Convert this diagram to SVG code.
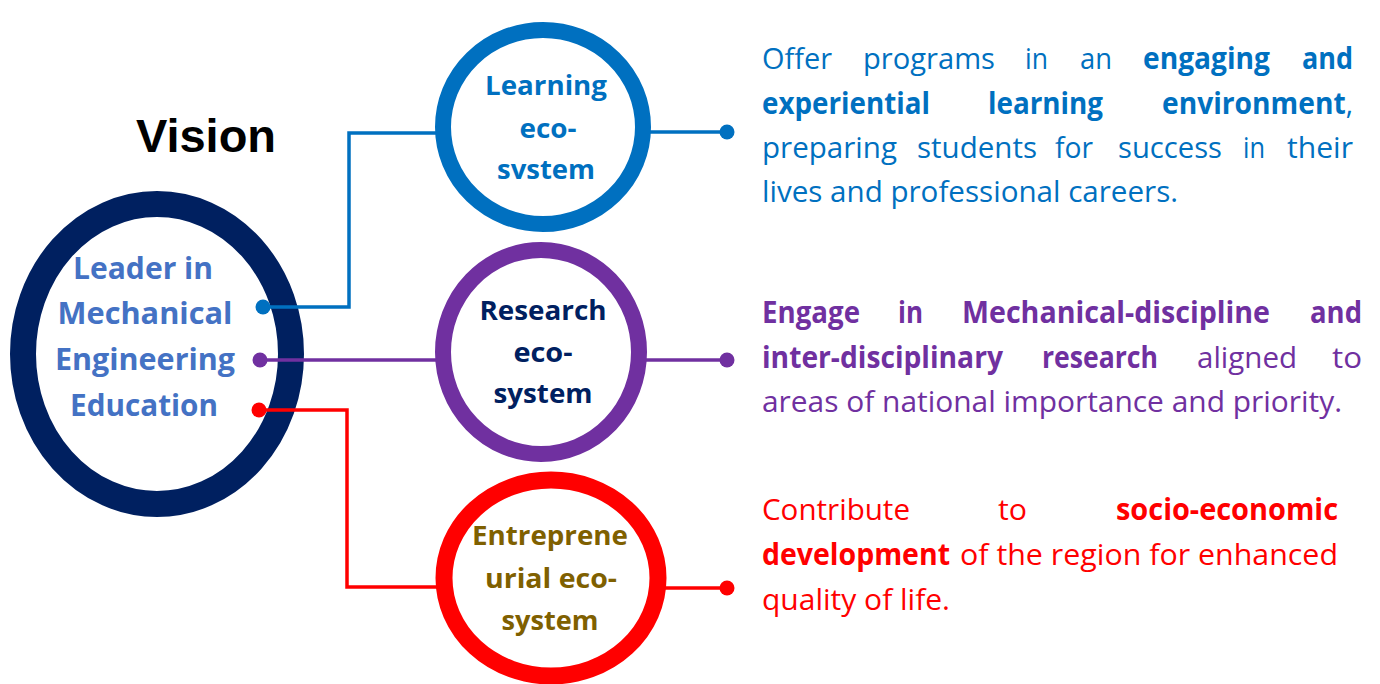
<svg xmlns="http://www.w3.org/2000/svg" width="1380" height="684" viewBox="0 0 1380 684">
<style>
text{font-family:"Open Sans","Noto Sans","DejaVu Sans",sans-serif}
.b{font-weight:700}
.n{font-weight:400}
.mid{text-anchor:middle}
.big{font-size:30px;font-weight:700;fill:#4472C4}
.sm{font-size:26px;font-weight:700}
.para{font-size:29.5px}
.blue{fill:#0070C0}
.purple{fill:#7030A0}
.red{fill:#FF0000}
.ring{fill:#FFFFFF}
.ln{fill:none;stroke-width:3.5}
</style>
<rect width="1380" height="684" fill="#FFFFFF"/>
<text x="206" y="152" font-size="47" font-weight="700" style="font-family:'Liberation Sans',Arial,sans-serif" text-anchor="middle" fill="#000000">Vision</text>

<g id="node-vision">
<ellipse class="ring" cx="157" cy="354" rx="134" ry="150" stroke="#002060" stroke-width="26"/>
<text class="big mid" x="143" y="279" textLength="140" lengthAdjust="spacingAndGlyphs">Leader in</text>
<text class="big mid" x="145" y="324" textLength="175" lengthAdjust="spacingAndGlyphs">Mechanical</text>
<text class="big mid" x="145" y="370" textLength="180" lengthAdjust="spacingAndGlyphs">Engineering</text>
<text class="big mid" x="144" y="416" textLength="148" lengthAdjust="spacingAndGlyphs">Education</text>
</g>

<g id="connectors">
<polyline class="ln" stroke="#0070C0" points="263,307 349,307 349,133 440,133"/>
<line class="ln" stroke="#0070C0" x1="648" y1="132" x2="727" y2="132"/>
<circle cx="263" cy="307" r="7.5" fill="#0070C0"/>
<circle cx="727" cy="132" r="7.5" fill="#0070C0"/>
<line class="ln" stroke="#7030A0" x1="260" y1="360" x2="440" y2="360"/>
<line class="ln" stroke="#7030A0" x1="642" y1="360" x2="727" y2="360"/>
<circle cx="260" cy="360" r="7.5" fill="#7030A0"/>
<circle cx="727" cy="360" r="7.5" fill="#7030A0"/>
<polyline class="ln" stroke="#FF0000" points="259,410 347,410 347,587 440,587"/>
<line class="ln" stroke="#FF0000" x1="660" y1="588" x2="727" y2="588"/>
<circle cx="259" cy="410" r="7.5" fill="#FF0000"/>
<circle cx="727" cy="588" r="7.5" fill="#FF0000"/>
</g>

<g id="node-learning">
<ellipse class="ring" cx="543" cy="127" rx="100" ry="97" stroke="#0070C0" stroke-width="16"/>
<text class="sm mid blue" x="546" y="95" textLength="122" lengthAdjust="spacingAndGlyphs">Learning</text>
<text class="sm mid blue" x="548" y="138" textLength="57" lengthAdjust="spacingAndGlyphs">eco-</text>
<text class="sm mid blue" x="546" y="179" textLength="98" lengthAdjust="spacingAndGlyphs">svstem</text>
</g>

<g id="node-research">
<ellipse class="ring" cx="541" cy="352" rx="98" ry="102" stroke="#7030A0" stroke-width="16"/>
<text class="sm mid" fill="#002060" x="543" y="320" textLength="127" lengthAdjust="spacingAndGlyphs">Research</text>
<text class="sm mid" fill="#002060" x="543" y="362" textLength="59" lengthAdjust="spacingAndGlyphs">eco-</text>
<text class="sm mid" fill="#002060" x="543" y="403" textLength="99" lengthAdjust="spacingAndGlyphs">system</text>
</g>

<g id="node-entrepreneurial">
<ellipse class="ring" cx="551" cy="578" rx="107" ry="98" stroke="#FF0000" stroke-width="17"/>
<text class="sm mid" fill="#7F6000" x="550" y="545" textLength="156" lengthAdjust="spacingAndGlyphs">Entreprene</text>
<text class="sm mid" fill="#7F6000" x="551" y="588" textLength="132" lengthAdjust="spacingAndGlyphs">urial eco-</text>
<text class="sm mid" fill="#7F6000" x="550" y="630" textLength="97" lengthAdjust="spacingAndGlyphs">system</text>
</g>

<g id="text-learning" class="para blue">
<text x="762" y="69" textLength="70" lengthAdjust="spacingAndGlyphs">Offer</text>
<text x="863" y="69" textLength="132" lengthAdjust="spacingAndGlyphs">programs</text>
<text x="1025" y="69" textLength="23" lengthAdjust="spacingAndGlyphs">in</text>
<text x="1080" y="69" textLength="32" lengthAdjust="spacingAndGlyphs">an</text>
<text class="b" x="1143" y="69" textLength="127" lengthAdjust="spacingAndGlyphs">engaging</text>
<text class="b" x="1302" y="69" textLength="51" lengthAdjust="spacingAndGlyphs">and</text>
<text class="b" x="762" y="114" textLength="168" lengthAdjust="spacingAndGlyphs">experiential</text>
<text class="b" x="988" y="114" textLength="115" lengthAdjust="spacingAndGlyphs">learning</text>
<text x="1162" y="114" textLength="191" lengthAdjust="spacingAndGlyphs"><tspan class="b">environment</tspan><tspan class="n">,</tspan></text>
<text x="762" y="158" textLength="135" lengthAdjust="spacingAndGlyphs">preparing</text>
<text x="917" y="158" textLength="120" lengthAdjust="spacingAndGlyphs">students</text>
<text x="1055" y="158" textLength="38" lengthAdjust="spacingAndGlyphs">for</text>
<text x="1118" y="158" textLength="104" lengthAdjust="spacingAndGlyphs">success</text>
<text x="1243" y="158" textLength="22" lengthAdjust="spacingAndGlyphs">in</text>
<text x="1287" y="158" textLength="66" lengthAdjust="spacingAndGlyphs">their</text>
<text x="762" y="202" textLength="416" lengthAdjust="spacingAndGlyphs">lives and professional careers.</text>
</g>

<g id="text-research" class="para purple">
<text class="b" x="762" y="323" textLength="98" lengthAdjust="spacingAndGlyphs">Engage</text>
<text class="b" x="898" y="323" textLength="25" lengthAdjust="spacingAndGlyphs">in</text>
<text class="b" x="962" y="323" textLength="308" lengthAdjust="spacingAndGlyphs">Mechanical-discipline</text>
<text class="b" x="1310" y="323" textLength="52" lengthAdjust="spacingAndGlyphs">and</text>
<text class="b" x="762" y="368" textLength="241" lengthAdjust="spacingAndGlyphs">inter-disciplinary</text>
<text class="b" x="1042" y="368" textLength="116" lengthAdjust="spacingAndGlyphs">research</text>
<text x="1197" y="368" textLength="100" lengthAdjust="spacingAndGlyphs">aligned</text>
<text x="1332" y="368" textLength="30" lengthAdjust="spacingAndGlyphs">to</text>
<text x="762" y="412" textLength="580" lengthAdjust="spacingAndGlyphs">areas of national importance and priority.</text>
</g>

<g id="text-entrepreneurial" class="para red">
<text x="762" y="520" textLength="148" lengthAdjust="spacingAndGlyphs">Contribute</text>
<text x="998" y="520" textLength="29" lengthAdjust="spacingAndGlyphs">to</text>
<text class="b" x="1116" y="520" textLength="222" lengthAdjust="spacingAndGlyphs">socio-economic</text>
<text class="b" x="762" y="565" textLength="188" lengthAdjust="spacingAndGlyphs">development</text>
<text x="960" y="565" textLength="378" lengthAdjust="spacingAndGlyphs">of the region for enhanced</text>
<text x="762" y="610" textLength="188" lengthAdjust="spacingAndGlyphs">quality of life.</text>
</g>
</svg>
